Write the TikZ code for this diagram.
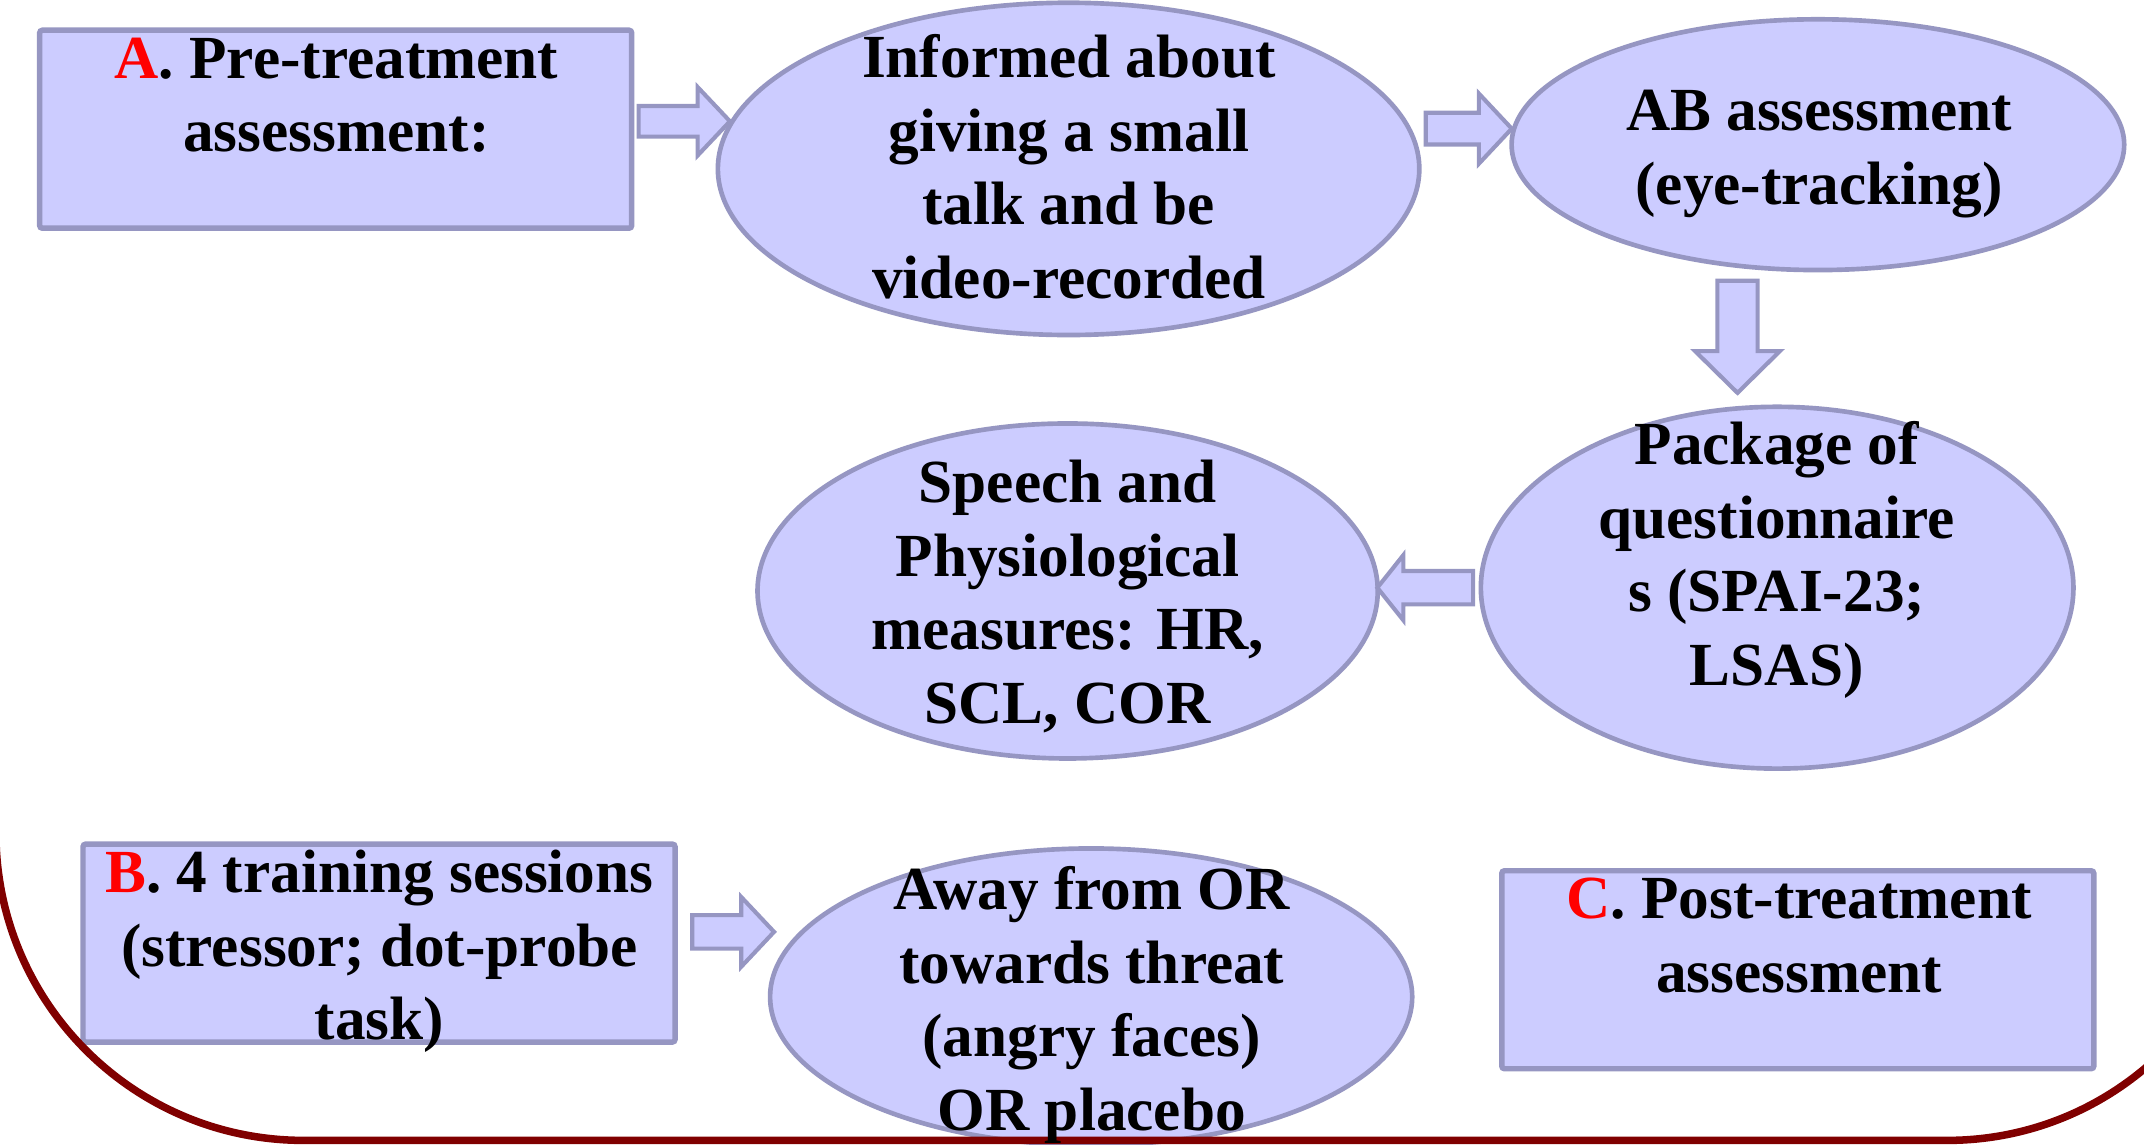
\documentclass[tikz,border=0pt]{standalone}
\usepackage{fontspec}
\setmainfont{Liberation Serif}
\usetikzlibrary{calc,shapes.geometric}
\definecolor{lav}{RGB}{204,204,255}
\definecolor{lavline}{RGB}{150,150,194}
\definecolor{framered}{RGB}{128,0,0}
\newcommand{\blockarr}[5]{%
  \coordinate (ba-s) at (#1);
  \coordinate (ba-e) at (#2);
  \coordinate (ba-h) at ($(ba-e)!#5!(ba-s)$);
  \draw[barrow] ($(ba-s)!#3!90:(ba-e)$) -- ($(ba-h)!#3!-90:(ba-s)$) -- ($(ba-h)!#4!-90:(ba-s)$) -- (ba-e) -- ($(ba-h)!#4!90:(ba-s)$) -- ($(ba-h)!#3!90:(ba-s)$) -- ($(ba-s)!#3!-90:(ba-e)$) -- cycle;}
\begin{document}
\begin{tikzpicture}[x=0.5pt,y=-0.5pt,
  ellnode/.style={ellipse, draw=lavline, fill=lav, line width=1.7pt, inner sep=0pt},
  boxnode/.style={rectangle, draw=lavline, fill=lav, line width=2pt, rounded corners=1pt, minimum width=216.5pt, minimum height=72.4pt, inner sep=0pt},
  txt/.style={font=\fontsize{22.4}{26.9}\selectfont\bfseries, align=center, inner sep=0pt, execute at begin node=\strut, execute at end node=\strut},
  barrow/.style={draw=lavline, fill=lav, line width=1.5pt, line join=miter},
  frame/.style={draw=framered, line width=2.75pt, rounded corners=112.5pt}]
\useasboundingbox (0,0) rectangle (1568,837);
% shapes
\node[boxnode] (a) at (245.5,94.5) {};
\node[ellnode, minimum width=256.5pt, minimum height=121.5pt] (e1) at (781.5,123.5) {};
\node[ellnode, minimum width=224pt, minimum height=91.7pt] (e2) at (1329.5,105.8) {};
\node[ellnode, minimum width=216.7pt, minimum height=132.3pt] (e3) at (1299.7,429.8) {};
\node[ellnode, minimum width=226.8pt, minimum height=122.5pt] (e4) at (780.8,432.2) {};
\node[boxnode] (b) at (277.2,689.7) {};
\node[ellnode, minimum width=234.8pt, minimum height=108.5pt] (e5) at (798,729) {};
\node[boxnode] (c) at (1314.8,709.2) {};
% frame
\begin{scope}
\clip (0,0) rectangle (1568,837);
\draw[frame] (-3,-500) rectangle (1649,834);
\end{scope}
% texts
\node[txt] (ta) at (246,77.4) {\textcolor{red}{A}. Pre-treatment\\assessment:};
\node[txt] (t1) at (781.7,129.9) {Informed about\\giving a small\\talk and be\\video-recorded};
\node[txt] (t2) at (1330.4,115.7) {AB assessment\\(eye-tracking)};
\node[txt] (t3) at (1299.4,412.8) {Package of\\questionnaire\\s (SPAI-23;\\LSAS)};
\node[txt] (t4) at (780.8,440.9) {Speech and\\Physiological\\measures: HR,\\SCL, COR};
\node[txt] (tb) at (277.6,699.3) {\textcolor{red}{B}. 4 training sessions\\(stressor; dot-probe\\task)};
\node[txt] (t5) at (798.5,738.4) {Away from OR\\towards threat\\(angry faces)\\OR placebo};
\node[txt] (tc) at (1315.7,691.9) {\textcolor{red}{C}. Post-treatment\\assessment};
% block arrows
\blockarr{$(a.east |- e1.172)+(3,0)$}{e1.172}{5.6pt}{12.5pt}{11.8pt}
\blockarr{$(e1.east |- e2.177)+(3,0)$}{e2.177}{5.8pt}{12.8pt}{12pt}
\coordinate (d1) at ($(e2.south)+(-58.8,6.1)$);
\coordinate (d2) at ($(e3.north)+(0,-8.5)$);
\blockarr{d1}{d1 |- d2}{7.35pt}{15.5pt}{15.25pt}
\blockarr{$(e3.west)+(-4,0)$}{$(e4.east |- e3.west)+(-2,0)$}{6.1pt}{11.9pt}{9.5pt}
\coordinate (f1) at ($(b.east)+(10.6,-8.2)$);
\blockarr{f1}{$(e5.west |- f1)+(4.6,0)$}{6.1pt}{12.75pt}{12pt}
\end{tikzpicture}
\end{document}
